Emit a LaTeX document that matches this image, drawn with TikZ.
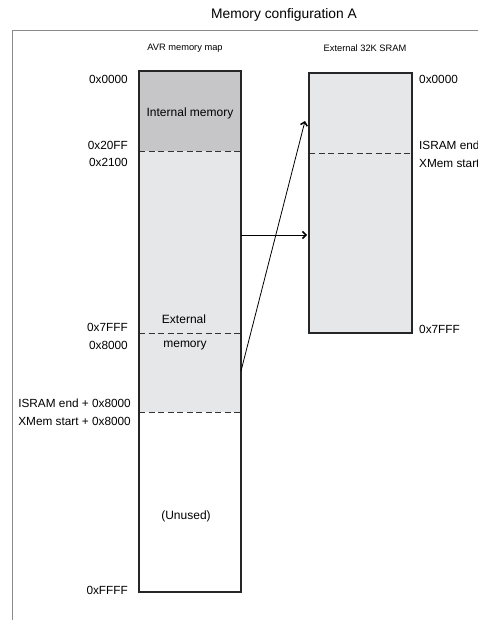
\documentclass[tikz,border=0pt]{standalone}
\usepackage{fontspec}
\setmainfont{Liberation Sans}
\usetikzlibrary{arrows.meta}
\definecolor{intgray}{HTML}{C6C6C8}
\definecolor{extgray}{HTML}{E6E7E9}
\definecolor{framegray}{HTML}{8A8A8A}
\tikzset{
  region/.style={anchor=north west, inner sep=0pt, outer sep=0pt, minimum width=#1},
  boxline/.style={draw=black!85, line width=1.3pt},
  sep/.style={draw=black!80, line width=0.9pt, dash pattern=on 6pt off 3.5pt},
  addr/.style={font=\fontsize{11.8}{14}\selectfont, inner sep=0pt},
  hdr/.style={font=\fontsize{9.3}{11}\selectfont, inner sep=0pt},
  inlabel/.style={font=\fontsize{12}{14}\selectfont, inner sep=0pt},
  conn/.style={draw=black, line width=0.8pt, -{Straight Barb[length=3.5pt,width=7pt,line width=1.5pt]}},
  frame/.style={draw=framegray, line width=1pt}
}
\begin{document}
\begin{tikzpicture}[x=1pt,y=-1pt]
\useasboundingbox (0,0) rectangle (478,620);
% frame
\coordinate (fr) at (478,31);
\coordinate (ftl) at (12,31);
\coordinate (fb) at (12,620);
\draw[frame] (fr) -- (ftl) -- (fb);
% title
\node[font=\fontsize{13.8}{16}\selectfont, inner sep=0pt] (title) at (284,15) {Memory configuration A};
% headers
\node[hdr] (h1) at (185,48) {AVR memory map};
\node[hdr] (h2) at (365,48) {External 32K SRAM};
% AVR memory map regions
\node[region=102pt, minimum height=80pt, fill=intgray] (int) at (139,71) {};
\node[region=102pt, minimum height=261pt, fill=extgray] (ext) at (139,151) {};
\node[region=102pt, minimum height=180pt] (unused) at (139,412) {};
\draw[sep] (int.south west) -- (int.south east);
\draw[sep] (139,333) -- (241,333);
\draw[sep] (ext.south west) -- (ext.south east);
\draw[boxline] (int.north west) rectangle (unused.south east);
% SRAM
\node[region=103pt, minimum height=260pt, fill=extgray] (sram) at (309,73) {};
\draw[sep] (309,153) -- (412,153);
\draw[boxline] (sram.north west) rectangle (sram.south east);
% inner labels
\node[inlabel] (lint) at (190,113) {Internal memory};
\node[inlabel] (lext1) at (184,319) {External};
\node[inlabel] (lext2) at (185,346) {memory};
\node[inlabel] (lun) at (186,516) {(Unused)};
% left address labels
\node[addr, anchor=east] (a0) at (128,79) {0x0000};
\node[addr, anchor=east] (a1) at (128,145) {0x20FF};
\node[addr, anchor=east] (a2) at (128,162) {0x2100};
\node[addr, anchor=east] (a3) at (128,327) {0x7FFF};
\node[addr, anchor=east] (a4) at (128,345) {0x8000};
\node[addr, anchor=east] (a5) at (131,403) {ISRAM end + 0x8000};
\node[addr, anchor=east] (a6) at (131,421) {XMem start + 0x8000};
\node[addr, anchor=east] (a7) at (128,590) {0xFFFF};
% right address labels
\node[addr, anchor=west] (b0) at (419,79) {0x0000};
\node[addr, anchor=west] (b1) at (419,145) {ISRAM end};
\node[addr, anchor=west] (b2) at (419,163) {XMem start};
\node[addr, anchor=west] (b3) at (419,329) {0x7FFF};
% connectors
\coordinate (s1) at (241,235);
\coordinate (e1) at (307,235);
\coordinate (s2) at (241,371);
\coordinate (e2) at (305,121);
\draw[conn] (s1) -- (e1);
\draw[conn] (s2) -- (e2);
\end{tikzpicture}
\end{document}
